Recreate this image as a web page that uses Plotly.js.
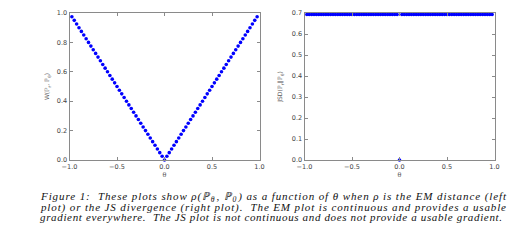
<!DOCTYPE html>
<html>
<head>
<meta charset="utf-8">
<script src="https://cdn.plot.ly/plotly-3.0.1.min.js"></script>
<style>
html,body{margin:0;padding:0;background:#ffffff;}
#chart{width:528px;height:241px;}
</style>
</head>
<body>
<div id="chart"></div>
<script>
// theta values (x)
const theta = [-0.975,-0.95,-0.925,-0.9,-0.875,-0.85,-0.825,-0.8,-0.775,-0.75,-0.725,-0.7,-0.675,-0.65,-0.625,-0.6,-0.575,-0.55,-0.525,-0.5,-0.475,-0.45,-0.425,-0.4,-0.375,-0.35,-0.325,-0.3,-0.275,-0.25,-0.225,-0.2,-0.175,-0.15,-0.125,-0.1,-0.075,-0.05,-0.025,0,0.025,0.05,0.075,0.1,0.125,0.15,0.175,0.2,0.225,0.25,0.275,0.3,0.325,0.35,0.375,0.4,0.425,0.45,0.475,0.5,0.525,0.55,0.575,0.6,0.625,0.65,0.675,0.7,0.725,0.75,0.775,0.8,0.825,0.85,0.875,0.9,0.925,0.95,0.975];
// EM distance values (left plot)
const emValues = [0.975,0.95,0.925,0.9,0.875,0.85,0.825,0.8,0.775,0.75,0.725,0.7,0.675,0.65,0.625,0.6,0.575,0.55,0.525,0.5,0.475,0.45,0.425,0.4,0.375,0.35,0.325,0.3,0.275,0.25,0.225,0.2,0.175,0.15,0.125,0.1,0.075,0.05,0.025,0,0.025,0.05,0.075,0.1,0.125,0.15,0.175,0.2,0.225,0.25,0.275,0.3,0.325,0.35,0.375,0.4,0.425,0.45,0.475,0.5,0.525,0.55,0.575,0.6,0.625,0.65,0.675,0.7,0.725,0.75,0.775,0.8,0.825,0.85,0.875,0.9,0.925,0.95,0.975];
// JS divergence values (right plot)
const jsValues = [0.693,0.693,0.693,0.693,0.693,0.693,0.693,0.693,0.693,0.693,0.693,0.693,0.693,0.693,0.693,0.693,0.693,0.693,0.693,0.693,0.693,0.693,0.693,0.693,0.693,0.693,0.693,0.693,0.693,0.693,0.693,0.693,0.693,0.693,0.693,0.693,0.693,0.693,0.693,0,0.693,0.693,0.693,0.693,0.693,0.693,0.693,0.693,0.693,0.693,0.693,0.693,0.693,0.693,0.693,0.693,0.693,0.693,0.693,0.693,0.693,0.693,0.693,0.693,0.693,0.693,0.693,0.693,0.693,0.693,0.693,0.693,0.693,0.693,0.693,0.693,0.693,0.693,0.693];
// tick labels
const xTicks = [-1.0,-0.5,0.0,0.5,1.0];
const xTickText = ["\u22121.0","\u22120.5","0.0","0.5","1.0"];
const yTicksLeft = [0,0.2,0.4,0.6,0.8,1.0];
const yTicksRight = [0,0.1,0.2,0.3,0.4,0.5,0.6,0.7];
const captionLines = [
  "Figure 1:  These plots show \u03c1(\u2119<sub>\u03b8</sub>, \u2119<sub>0</sub>) as a function of \u03b8 when \u03c1 is the EM distance (left",
  "plot) or the JS divergence (right plot).  The EM plot is continuous and provides a usable",
  "gradient everywhere.  The JS plot is not continuous and does not provide a usable gradient."
];

const W = 528, H = 241;
const px = v => v / W;
const py = v => (H - v) / H;
const captionLeft = 40;
const captionWidths = [465, 465, 462];

const marker = {color: '#0000ff', size: 3.6, line: {width: 0}};
const traces = [
  {x: theta, y: emValues, type: 'scatter', mode: 'markers', marker: marker, xaxis: 'x', yaxis: 'y', cliponaxis: false, hoverinfo: 'skip'},
  {x: theta, y: jsValues, type: 'scatter', mode: 'markers', marker: marker, xaxis: 'x2', yaxis: 'y2', cliponaxis: false, hoverinfo: 'skip'}
];

const tickFont = {family: 'DejaVu Sans', size: 6.5, color: '#444'};
const axBase = {
  showline: true, linecolor: '#8a8a8a', linewidth: 1, mirror: 'ticks',
  ticks: 'inside', ticklen: 3, tickcolor: '#8a8a8a', tickwidth: 1,
  showgrid: false, zeroline: false, tickfont: tickFont, fixedrange: true
};

const layout = {
  width: W, height: H,
  margin: {l: 0, r: 0, t: 0, b: 0},
  paper_bgcolor: '#ffffff', plot_bgcolor: '#ffffff',
  showlegend: false,
  xaxis: Object.assign({}, axBase, {domain: [px(69.5), px(259.5)], range: [-1, 1], tickvals: xTicks, ticktext: xTickText, anchor: 'y',
    title: {text: '\u03b8', font: {family: 'DejaVu Serif', size: 6.5, color: '#555'}, standoff: 2}}),
  yaxis: Object.assign({}, axBase, {domain: [py(160), py(13)], range: [0, 1], tickvals: yTicksLeft, tickformat: '.1f', anchor: 'x',
    title: {text: 'W(\u2119<sub>r</sub>, \u2119<sub>\u03b8</sub>)', font: {family: 'DejaVu Sans', size: 6, color: '#555'}, standoff: 6}}),
  xaxis2: Object.assign({}, axBase, {domain: [px(304.5), px(494.5)], range: [-1, 1], tickvals: xTicks, ticktext: xTickText, anchor: 'y2',
    title: {text: '\u03b8', font: {family: 'DejaVu Serif', size: 6.5, color: '#555'}, standoff: 2}}),
  yaxis2: Object.assign({}, axBase, {domain: [py(160), py(13)], range: [0, 0.7], tickvals: yTicksRight, tickformat: '.1f', anchor: 'x2',
    title: {text: 'JSD(\u2119<sub>r</sub>\u2016\u2119<sub>\u03b8</sub>)', font: {family: 'DejaVu Sans', size: 6, color: '#555'}, standoff: 8}}),
  annotations: captionLines.map((t, i) => ({
    text: t, xref: 'paper', yref: 'paper', x: px(captionLeft), y: py(196.8 + i * 10.3),
    xanchor: 'left', yanchor: 'middle', showarrow: false, borderpad: 0, borderwidth: 0,
    font: {family: 'Liberation Serif', size: 11, color: '#111', style: 'italic'}
  }))
};

Plotly.newPlot('chart', traces, layout, {staticPlot: true, displayModeBar: false}).then(() => {
  // justify caption lines (as in the typeset reference)
  const els = document.querySelectorAll('#chart .annotation-text');
  els.forEach((el, i) => {
    const target = captionWidths[i];
    if (!target) return;
    el.setAttribute('textLength', target);
    el.setAttribute('lengthAdjust', 'spacing');
    const r = el.getBoundingClientRect();
    const cur = parseFloat(el.getAttribute('x') || '0');
    el.setAttribute('x', cur + (captionLeft - r.left));
  });
});
</script>
</body>
</html>
